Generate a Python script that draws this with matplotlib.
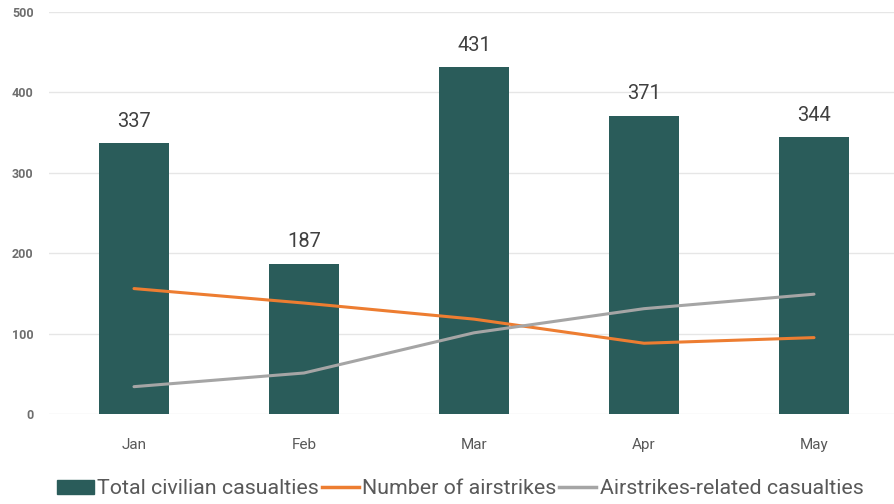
import matplotlib
matplotlib.use("Agg")
import matplotlib.pyplot as plt
from matplotlib.patches import Patch
from matplotlib.lines import Line2D

months = ["Jan", "Feb", "Mar", "Apr", "May"]
total_casualties = [337, 187, 431, 371, 344]
airstrikes = [156, 138, 118, 88, 95]
airstrike_casualties = [34, 51, 101, 131, 149]
y_ticks = [0, 100, 200, 300, 400, 500]

BAR = "#2A5C5A"
ORANGE = "#ED7D31"
GREY = "#A5A5A5"
TEXT = "#595959"

plt.rcParams["font.family"] = ["Roboto", "DejaVu Sans"]

fig = plt.figure(figsize=(8.95, 5.04), dpi=100)
ax = fig.add_axes([49 / 895, 90 / 504, 846 / 895, 402 / 504])

x = list(range(len(months)))
ax.bar(x, total_casualties, width=0.41, color=BAR, zorder=2)
ax.plot(x, airstrikes, color=ORANGE, lw=2.2, zorder=3, solid_capstyle="round")
ax.plot(x, airstrike_casualties, color=GREY, lw=2.2, zorder=3, solid_capstyle="round")

for xi, v in zip(x, total_casualties):
    ax.annotate(str(v), (xi, v), xytext=(0, 9), textcoords="offset points",
                ha="center", va="bottom", fontsize=14.5, color="#404040")

ax.set_xlim(-0.5, -0.5 + 846 / 170)
ax.set_ylim(0, 500)
ax.set_yticks(y_ticks)
ax.set_xticks(x)
ax.set_xticklabels(months)
ax.tick_params(axis="y", length=0, pad=11, labelsize=9, labelcolor="#6E6E6E")
ax.tick_params(axis="x", length=0, pad=17, labelsize=11, labelcolor=TEXT)
for lbl in ax.get_yticklabels():
    lbl.set_fontweight("bold")
ax.grid(axis="y", color="#E6E6E6", lw=1, zorder=0)
for s in ax.spines.values():
    s.set_visible(False)

handles = [
    Patch(facecolor=BAR, edgecolor=BAR),
    Line2D([0], [0], color=ORANGE, lw=2.5),
    Line2D([0], [0], color=GREY, lw=2.5),
]
labels = ["Total civilian casualties", "Number of airstrikes", "Airstrikes-related casualties"]
fig.legend(handles, labels, loc="center", bbox_to_anchor=(0.514, 15 / 504), ncol=3,
           frameon=False, fontsize=15.4, labelcolor=TEXT, handlelength=1.73,
           handletextpad=0.15, columnspacing=0.15, handleheight=0.6)

fig.savefig("out.png", dpi=100, facecolor="white")
